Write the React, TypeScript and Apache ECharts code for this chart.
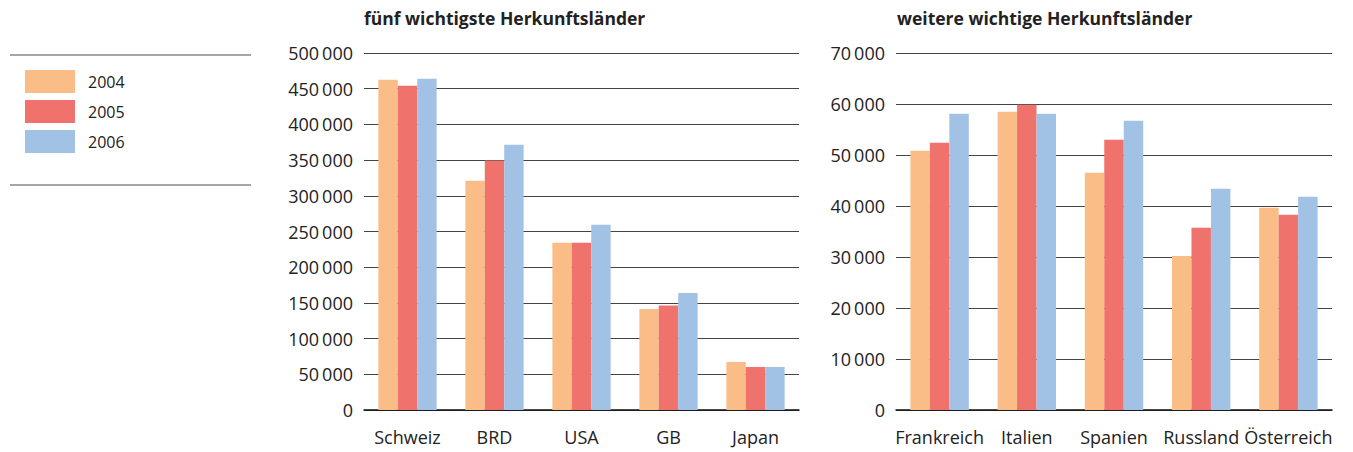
import React, { useEffect, useRef } from "react";
import * as echarts from "echarts";

const years = ["2004", "2005", "2006"];
const colors = ["#FBBD87", "#F0726C", "#A2C2E5"];

const topCountries = ["Schweiz", "BRD", "USA", "GB", "Japan"];
const top2004 = [462600, 321000, 234100, 141600, 67300];
const top2005 = [454200, 349500, 234100, 146300, 60300];
const top2006 = [464000, 371500, 259400, 164000, 60300];

const otherCountries = ["Frankreich", "Italien", "Spanien", "Russland", "Österreich"];
const other2004 = [50830, 58490, 46510, 30220, 39640];
const other2005 = [52400, 59860, 52990, 35720, 38270];
const other2006 = [58090, 58090, 56720, 43370, 41800];

const titleLeft = "fünf wichtigste Herkunftsländer";
const titleRight = "weitere wichtige Herkunftsländer";

const FONT = "'Open Sans', 'Noto Sans', sans-serif";

const fmt = (v: number) => {
  const s = String(Math.round(v));
  return s.replace(/\B(?=(\d{3})+(?!\d))/g, "\u2009");
};

export default function App() {
  const ref = useRef<HTMLDivElement>(null);
  useEffect(() => {
    document.body.style.margin = "0";
    const chart = echarts.init(ref.current!, null, { renderer: "svg" });
    const yAxisCommon = {
      type: "value" as const,
      min: 0,
      axisLine: { show: false },
      axisTick: { show: false },
      axisLabel: { formatter: fmt, color: "#222", fontSize: 18, fontFamily: FONT, margin: 11 },
      splitLine: { lineStyle: { color: "#444", width: 1 } },
    };
    const xAxisCommon = {
      type: "category" as const,
      axisLine: { lineStyle: { color: "#111", width: 1.5 } },
      axisTick: { show: false },
      axisLabel: { color: "#222", fontSize: 18, fontFamily: FONT, margin: 18, interval: 0 },
    };
    const mkSeries = (data: number[], i: number, idx: number) => ({
      type: "bar" as const,
      name: years[i],
      xAxisIndex: idx,
      yAxisIndex: idx,
      data,
      barGap: "0%",
      barCategoryGap: "33%",
      itemStyle: { color: colors[i] },
    });
    const titleStyle = { fontSize: 17.5, fontWeight: "bold" as const, color: "#222", fontFamily: FONT };
    chart.setOption({
      animation: false,
      textStyle: { fontFamily: FONT },
      title: [
        { text: titleLeft, left: 364, top: 9, padding: 0, textStyle: titleStyle },
        { text: titleRight, left: 897, top: 9, padding: 0, textStyle: titleStyle },
      ],
      legend: {
        data: years,
        orient: "vertical",
        left: 25,
        top: 70,
        padding: 0,
        itemWidth: 50,
        itemHeight: 23,
        itemGap: 7,
        icon: "rect",
        textStyle: { fontSize: 16, color: "#222", fontFamily: FONT, padding: [0, 0, 0, 8] },
      },
      grid: [
        { left: 364, right: 554, top: 53, bottom: 42 },
        { left: 896, right: 21, top: 53, bottom: 42 },
      ],
      xAxis: [
        { ...xAxisCommon, gridIndex: 0, data: topCountries },
        { ...xAxisCommon, gridIndex: 1, data: otherCountries },
      ],
      yAxis: [
        { ...yAxisCommon, gridIndex: 0, max: 500000, interval: 50000 },
        { ...yAxisCommon, gridIndex: 1, max: 70000, interval: 10000 },
      ],
      series: [
        mkSeries(top2004, 0, 0),
        mkSeries(top2005, 1, 0),
        mkSeries(top2006, 2, 0),
        mkSeries(other2004, 0, 1),
        mkSeries(other2005, 1, 1),
        mkSeries(other2006, 2, 1),
      ],
      graphic: [
        { type: "line", shape: { x1: 10, y1: 55, x2: 251, y2: 55 }, style: { stroke: "#888", lineWidth: 1.5 } },
        { type: "line", shape: { x1: 10, y1: 185, x2: 251, y2: 185 }, style: { stroke: "#888", lineWidth: 1.5 } },
      ],
    });
    return () => chart.dispose();
  }, []);
  return <div ref={ref} style={{ width: 1353, height: 452 }} />;
}
